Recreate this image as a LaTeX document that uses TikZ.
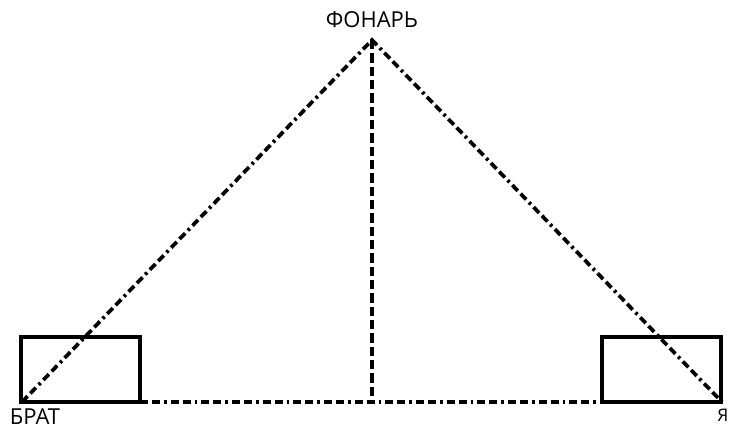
\documentclass[tikz,border=0pt]{standalone}
\usepackage{fontspec}
\setmainfont{Open Sans}
\usepackage{tikz}
\tikzset{
  sightline/.style={line width=2.8pt,dash pattern=on 6pt off 3pt on 6pt off 3pt on 2pt off 3pt},
  heightline/.style={line width=2.8pt,dash pattern=on 7pt off 3pt},
  bench/.style={line width=2.6pt}
}
\begin{document}
\begin{tikzpicture}[x=0.75pt,y=-0.75pt]
\useasboundingbox (0,0) rectangle (733,430);
\coordinate (lamp) at (372,40);
\coordinate (brat) at (22,402);
\coordinate (ya) at (722,402);
\coordinate (foot) at (372,402);
\coordinate (lbr) at (140,402);
\coordinate (rbl) at (602,402);
\draw[bench] (21,337) rectangle (lbr);
\draw[bench] (rbl) rectangle (721,337);
\draw[sightline] (brat)--(lamp)--(ya);
\draw[sightline] (lbr)--(rbl);
\draw[heightline] (lamp)--(foot);
\node[font=\fontsize{16.5}{18}\selectfont] (lamplbl) at (372,20) {ФОНАРЬ};
\node[font=\fontsize{16.5}{18}\selectfont] (bratlbl) at (35,417) {БРАТ};
\node[font=\fontsize{13}{15}\selectfont] (yalbl) at (723,415) {Я};
\end{tikzpicture}
\end{document}
